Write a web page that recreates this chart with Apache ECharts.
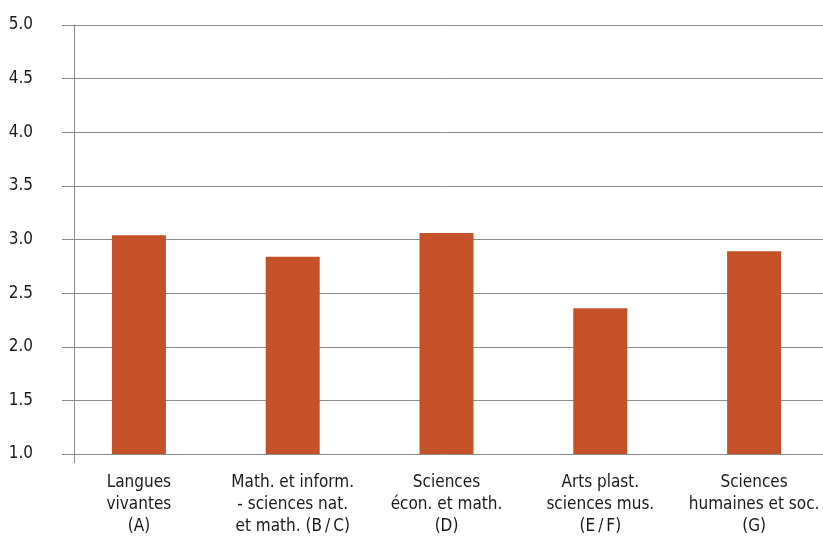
<!DOCTYPE html>
<html><head><meta charset="utf-8">
<script src="https://cdn.jsdelivr.net/npm/echarts@6/dist/echarts.min.js"></script>
<style>html,body{margin:0;padding:0;background:#fff;overflow:hidden;width:823px;height:541px}#c{width:831px;height:541px}</style>
</head><body><div id="c"></div>
<script>
const categories = ["Langues\nvivantes\n(A)", "Math. et inform.\n- sciences nat.\net math. (B\u2009/\u2009C)", "Sciences\nécon. et math.\n(D)", "Arts plast.\nsciences mus.\n(E\u2009/\u2009F)", "Sciences\nhumaines et soc.\n(G)"];
const values = [3.04, 2.84, 3.06, 2.36, 2.89];
const yMin = 1.0, yMax = 5.0, yStep = 0.5;

const font = '"Liberation Sans Narrow", "DejaVu Sans Condensed", "Roboto", sans-serif';
const chart = echarts.init(document.getElementById('c'), null, {renderer: 'canvas'});
chart.setOption({
  animation: false,
  backgroundColor: '#fff',
  grid: {left: 62, top: 25, right: 0, bottom: 87, containLabel: false},
  xAxis: {
    type: 'category', data: categories,
    axisLine: {show: false}, axisTick: {show: false},
    axisLabel: {color: '#1a1a1a', fontFamily: font, fontSize: 17, lineHeight: 22, margin: 18, interval: 0}
  },
  yAxis: {
    type: 'value', min: yMin, max: yMax, interval: yStep, offset: -12,
    axisLine: {show: true, lineStyle: {color: '#8c8c8c', width: 1}},
    axisTick: {show: false},
    splitLine: {lineStyle: {color: '#8c8c8c', width: 1}},
    axisLabel: {color: '#1a1a1a', fontFamily: font, fontSize: 17, margin: 41,
      formatter: v => v.toFixed(1)}
  },
  series: [{
    type: 'bar', data: values, barWidth: 54,
    itemStyle: {color: '#C55128'}
  }]
});
// extend the vertical axis line slightly below the baseline
const pTop = chart.convertToPixel({yAxisIndex: 0}, yMin);
chart.setOption({graphic: [{type: 'line', shape: {x1: 74.5, y1: pTop, x2: 74.5, y2: pTop + 9}, style: {stroke: '#8c8c8c', lineWidth: 1}}]});
</script></body></html>
